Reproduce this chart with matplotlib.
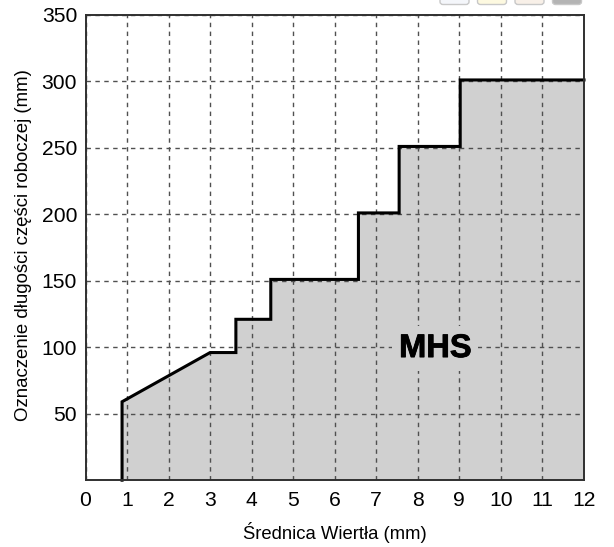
import matplotlib
matplotlib.use("Agg")
import matplotlib.pyplot as plt
import matplotlib.patheffects as pe
from matplotlib.patches import FancyBboxPatch

plt.rcParams['font.family'] = ['Liberation Sans', 'DejaVu Sans']

diameter = [0.88, 0.88, 3.0, 3.62, 3.62, 4.46, 4.46, 6.57, 6.57, 7.55, 7.55, 9.02, 9.02, 12.0]
length = [0, 59, 96, 96, 121, 121, 151, 151, 201, 201, 251, 251, 301, 301]
xticks = list(range(13))
yticks = [50, 100, 150, 200, 250, 300, 350]
button_colors = ['#f4f6fa', '#fdf9e0', '#f8f0e8', '#b4b4b4']

W, H = 614, 547
fig = plt.figure(figsize=(W / 100, H / 100), dpi=100)
ax = fig.add_axes([85.5 / W, 1 - 480.2 / H, 498.5 / W, 465.4 / H])

ax.fill_between(diameter, length, 0, color='#d0d0d0', lw=0, zorder=1)
ax.grid(True, linestyle=(0, (3.2, 3.2)), color='#505050', linewidth=1.0, zorder=2)
ax.set_axisbelow(False)
ax.plot(diameter, length, color='black', linewidth=2.2, solid_joinstyle='miter', zorder=3, clip_on=False)

ax.set_xlim(0, 12)
ax.set_ylim(0, 350)
ax.set_xticks(xticks)
ax.set_yticks(yticks)
ax.tick_params(length=0, labelsize=15.2, pad=8)
ax.tick_params(axis='y', pad=6)
for s in ax.spines.values():
    s.set_linewidth(1.4)
    s.set_color('#303030')
    s.set_zorder(4)

ax.set_xlabel('Średnica Wiertła (mm)', fontsize=13.3, labelpad=8.5)
ax.set_ylabel('Oznaczenie długości części roboczej (mm)', fontsize=13.4)
ax.yaxis.set_label_coords((32 - 85.5) / 498.5, 0.505)
mhs = ax.text(8.42, 99, 'MHS', fontsize=23.5, fontweight='bold', ha='center', va='center', zorder=5,
              bbox=dict(facecolor='#d0d0d0', edgecolor='none', pad=5))
mhs.set_path_effects([pe.withStroke(linewidth=0.6, foreground='black')])

for x0, c in zip([440, 477.5, 515, 552.5], button_colors):
    fig.add_artist(FancyBboxPatch((x0 / W, 1 - 4.5 / H), 29 / W, 12 / H,
                                  boxstyle='round,pad=0,rounding_size=0.005',
                                  transform=fig.transFigure, facecolor=c,
                                  edgecolor='#c8c8c8', linewidth=1.0))

fig.savefig('out.png', dpi=100)
